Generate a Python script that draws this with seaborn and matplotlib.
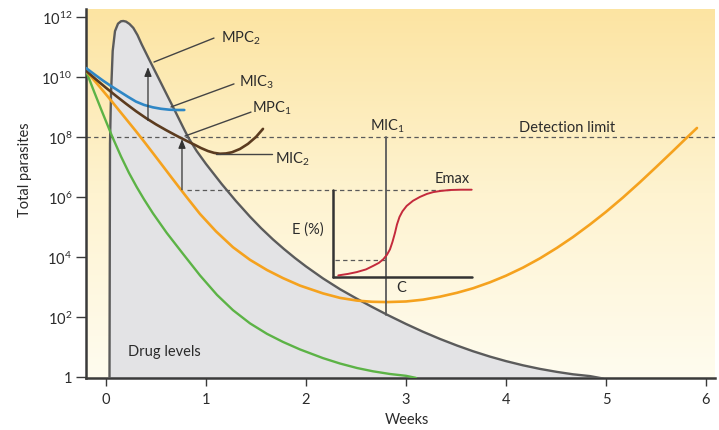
import numpy as np
import pandas as pd
import matplotlib
matplotlib.use("Agg")
import matplotlib.pyplot as plt
from matplotlib.colors import LinearSegmentedColormap
import seaborn as sns

# ---- curve data: weeks and log10(total parasites / drug level) ----
drug_weeks = [0.035, 0.04, 0.05, 0.067, 0.09, 0.12, 0.15, 0.173, 0.2, 0.235,
              0.273, 0.315, 0.357, 0.44, 0.523, 0.607, 0.69, 0.773, 0.823,
              0.907, 1.0, 1.157, 1.3, 1.44, 1.55, 1.67, 1.78, 1.89, 2.0,
              2.17, 2.34, 2.51, 2.66, 2.81, 3.0, 3.17, 3.34, 3.51, 3.67,
              3.84, 4.0, 4.17, 4.34, 4.51, 4.67, 4.84, 4.97]
drug_log = [-0.06, 7.77, 9.42, 10.87, 11.53, 11.78, 11.86, 11.87, 11.85, 11.77,
            11.64, 11.4, 11.09, 10.53, 9.98, 9.42, 8.87, 8.31, 7.98,
            7.53, 7.1, 6.43, 5.86, 5.34, 4.96, 4.58, 4.26, 3.96, 3.68,
            3.28, 2.92, 2.6, 2.33, 2.07, 1.76, 1.5, 1.26, 1.04, 0.85,
            0.67, 0.52, 0.38, 0.26, 0.16, 0.08, 0.02, -0.06]

mic3_weeks = [-0.2, -0.1, -0.03, 0.05, 0.13, 0.22, 0.3, 0.38, 0.467, 0.55,
              0.633, 0.71, 0.783]
mic3_log = [10.3, 10.05, 9.88, 9.7, 9.53, 9.34, 9.18, 9.07, 8.99, 8.94,
            8.91, 8.9, 8.9]

mic2_weeks = [-0.2, -0.1, 0.0, 0.1, 0.2, 0.3, 0.4, 0.5, 0.6, 0.7, 0.8, 0.88,
              0.95, 1.02, 1.08, 1.14, 1.2, 1.26, 1.34, 1.42, 1.5, 1.57]
mic2_log = [10.21, 9.92, 9.64, 9.37, 9.11, 8.86, 8.63, 8.42, 8.23, 8.05, 7.88, 7.75,
            7.63, 7.53, 7.47, 7.44, 7.45, 7.49, 7.6, 7.77, 8.0, 8.27]

orange_weeks = [-0.2, -0.1, -0.03, 0.05, 0.13, 0.22, 0.3, 0.38, 0.47, 0.55,
                0.657, 0.8, 0.94, 1.1, 1.27, 1.44, 1.61, 1.77, 1.94, 2.17,
                2.34, 2.51, 2.66, 2.81, 3.0, 3.17, 3.34, 3.51, 3.67, 3.84,
                4.0, 4.17, 4.34, 4.51, 4.67, 4.84, 5.0, 5.17, 5.34, 5.5,
                5.67, 5.8, 5.91]
orange_log = [10.21, 9.82, 9.54, 9.22, 8.89, 8.52, 8.19, 7.85, 7.46, 7.11,
              6.64, 6.02, 5.43, 4.85, 4.32, 3.9, 3.56, 3.29, 3.04, 2.78,
              2.63, 2.54, 2.5, 2.49, 2.51, 2.57, 2.67, 2.8, 2.95, 3.15,
              3.37, 3.64, 3.95, 4.3, 4.66, 5.08, 5.5, 5.98, 6.49, 6.99,
              7.53, 7.95, 8.3]

green_weeks = [-0.2, -0.12, -0.04, 0.06, 0.15, 0.23, 0.307, 0.38, 0.47, 0.607,
               0.77, 0.94, 1.11, 1.27, 1.44, 1.61, 1.77, 1.94, 2.17, 2.34,
               2.51, 2.67, 2.84, 3.0, 3.1]
green_log = [10.21, 9.52, 8.85, 8.03, 7.35, 6.8, 6.33, 5.92, 5.45, 4.8,
             4.1, 3.38, 2.73, 2.22, 1.78, 1.43, 1.16, 0.91, 0.62, 0.44,
             0.29, 0.18, 0.09, 0.03, -0.04]

# concentration-effect inset (sigmoid)
emax_weeks = [2.323, 2.42, 2.507, 2.6, 2.673, 2.73, 2.773, 2.81, 2.84, 2.865,
              2.89, 2.91, 2.935, 2.965, 3.007, 3.07, 3.14, 3.21, 3.273, 3.35,
              3.44, 3.55, 3.657]
emax_log = [3.38, 3.43, 3.49, 3.58, 3.7, 3.8, 3.92, 4.07, 4.25, 4.5,
            4.8, 5.08, 5.33, 5.52, 5.7, 5.87, 6.0, 6.1, 6.16, 6.2,
            6.23, 6.24, 6.24]

ytick_exp = [0, 2, 4, 6, 8, 10, 12]
ytick_labels = ["1", r"$\mathregular{10^2}$", r"$\mathregular{10^4}$",
                r"$\mathregular{10^6}$", r"$\mathregular{10^8}$",
                r"$\mathregular{10^{10}}$", r"$\mathregular{10^{12}}$"]
xticks = [0, 1, 2, 3, 4, 5, 6]

detection_log = 8.0
emax_level = 6.24
mic1_week = 2.8

sns.set_theme(style="white")
plt.rcParams["font.family"] = ["Lato", "DejaVu Sans"]
plt.rcParams["mathtext.fontset"] = "custom"
plt.rcParams["mathtext.rm"] = "Lato"
plt.rcParams["mathtext.it"] = "Lato:italic"
plt.rcParams["mathtext.bf"] = "Lato:bold"

TXT = "#2b2b2b"
AX = "#3a3a3a"
GREY_LINE = "#5a5a5a"


def lv(a):
    return 10.0 ** np.asarray(a, dtype=float)


fig = plt.figure(figsize=(7.19, 4.31), dpi=100)
pos = [0.1196, 0.1195, 0.8748, 0.8573]

# warm vertical gradient behind the plot
bg = fig.add_axes(pos, zorder=0)
grad = np.linspace(1, 0, 256).reshape(-1, 1)
cmap = LinearSegmentedColormap.from_list("warm", ["#fffcef", "#fef3d0", "#fce4a2"])
bg.imshow(grad, aspect="auto", cmap=cmap, extent=[0, 1, 0, 1], origin="upper")
bg.axis("off")

ax = fig.add_axes(pos, zorder=1)
ax.set_facecolor("none")
ax.set_yscale("log")
ymin = 10 ** -0.06
ax.set_xlim(-0.2, 6.09)
ax.set_ylim(ymin, 10 ** 12.27)

# drug levels: shaded area
ax.fill_between(drug_weeks, lv(drug_log), ymin, color="#e3e3e5", zorder=1, lw=0)
sns.lineplot(x=drug_weeks, y=lv(drug_log), ax=ax, color="#5b5b5b", lw=1.7,
             sort=False, zorder=3)

# reference lines
dash_kw = dict(color=GREY_LINE, lw=0.9, ls=(0, (3.5, 2.6)), zorder=2)
ax.plot([-0.2, 6.09], [lv(detection_log)] * 2, **dash_kw)
ax.plot([0.81, 3.44], [lv(emax_level)] * 2, **dash_kw)
ax.plot([2.29, 2.79], [lv(3.91)] * 2, **dash_kw)

# parasite curves
sns.lineplot(x=green_weeks, y=lv(green_log), ax=ax, color="#5cb346", lw=1.7, sort=False, zorder=4)
sns.lineplot(x=orange_weeks, y=lv(orange_log), ax=ax, color="#f5a21e", lw=1.9, sort=False, zorder=4)
sns.lineplot(x=mic2_weeks, y=lv(mic2_log), ax=ax, color="#5b3b1f", lw=1.9, sort=False, zorder=4)
sns.lineplot(x=mic3_weeks, y=lv(mic3_log), ax=ax, color="#2f87c6", lw=1.9, sort=False, zorder=4)

# MIC1 marker line
ax.plot([mic1_week, mic1_week], [lv(detection_log), lv(2.07)], color=GREY_LINE, lw=1.3, zorder=5)

# inset axes of the concentration-effect plot
ax.plot([2.27, 2.27], [lv(3.33), lv(emax_level)], color="#333333", lw=1.8, zorder=5)
ax.plot([2.27, 3.66], [lv(3.33), lv(3.33)], color="#333333", lw=1.8, zorder=5)
sns.lineplot(x=emax_weeks, y=lv(emax_log), ax=ax, color="#c42a3c", lw=1.4, sort=False, zorder=6)

# arrows
arrow_kw = dict(arrowstyle="-|>,head_length=0.45,head_width=0.18", color="#333333", lw=0.9,
                shrinkA=0, shrinkB=0)
ax.annotate("", xy=(0.42, lv(10.33)), xytext=(0.42, lv(8.55)), arrowprops=arrow_kw, zorder=6)
ax.annotate("", xy=(0.76, lv(7.93)), xytext=(0.76, lv(6.24)), arrowprops=arrow_kw, zorder=6)

# leader lines with labels
fs = 10.5
leaders = [
    ((0.48, 10.5), (1.08, 11.3), (1.15, 11.33), r"$\mathregular{MPC_2}$"),
    ((0.65, 9.0), (1.28, 9.77), (1.33, 9.85), r"$\mathregular{MIC_3}$"),
    ((0.79, 8.03), (1.45, 8.83), (1.46, 9.0), r"$\mathregular{MPC_1}$"),
    ((1.1, 7.44), (1.66, 7.44), (1.69, 7.3), r"$\mathregular{MIC_2}$"),
]
for (x0, y0), (x1, y1), (tx, ty), label in leaders:
    ax.plot([x0, x1], [lv(y0), lv(y1)], color="#444444", lw=1.0, zorder=5)
    ax.text(tx, lv(ty), label, fontsize=fs, color=TXT, ha="left", va="center", zorder=7)

ax.text(mic1_week + 0.01, lv(8.4), r"$\mathregular{MIC_1}$", fontsize=fs, color=TXT,
        ha="center", va="center", zorder=7)
ax.text(4.61, lv(8.33), "Detection limit", fontsize=fs, color=TXT, ha="center", va="center")
ax.text(3.46, lv(6.62), "Emax", fontsize=fs, color=TXT, ha="center", va="center")
ax.text(2.02, lv(4.93), "E (%)", fontsize=fs, color=TXT, ha="center", va="center")
ax.text(2.95, lv(3.0), "C", fontsize=fs, color=TXT, ha="center", va="center")
ax.text(0.22, lv(0.87), "Drug levels", fontsize=fs, color=TXT, ha="left", va="center", zorder=7)

# axes styling
for side in ["top", "right"]:
    ax.spines[side].set_visible(False)
for side in ["left", "bottom"]:
    ax.spines[side].set_color(AX)
    ax.spines[side].set_linewidth(1.8)

ax.set_yticks(lv(ytick_exp))
ax.set_yticklabels(ytick_labels)
ax.yaxis.set_minor_locator(matplotlib.ticker.NullLocator())
ax.set_xticks(xticks)
ax.set_xticklabels([str(t) for t in xticks])
ax.tick_params(axis="y", which="major", direction="out", length=7, width=1.0,
               color=AX, labelsize=10.5, labelcolor=TXT, pad=3, left=True)
ax.tick_params(axis="x", which="major", direction="out", length=6, width=1.0,
               color=AX, labelsize=10.5, labelcolor=TXT, pad=4, bottom=True)

ax.set_xlabel("Weeks", fontsize=10.5, color=TXT)
ax.set_ylabel("Total parasites", fontsize=10.5, color=TXT)
ax.xaxis.set_label_coords(0.51, -0.09)
ax.yaxis.set_label_coords(-0.086, 0.567)
ax.grid(False)

fig.savefig("out.png", dpi=100)
